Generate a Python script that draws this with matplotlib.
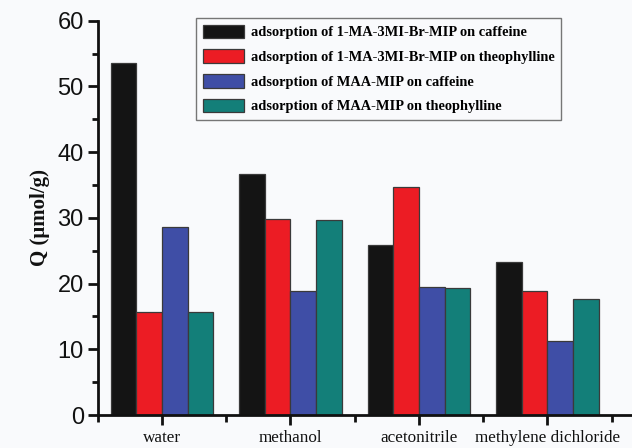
import matplotlib
matplotlib.use("Agg")
import matplotlib.pyplot as plt
from matplotlib.ticker import MultipleLocator, FixedLocator
import numpy as np

# ── Data ─────────────────────────────────────────────────────────────────────
solvents = ["water", "methanol", "acetonitrile", "methylene dichloride"]
series_names = [
    "adsorption of 1-MA-3MI-Br-MIP on caffeine",
    "adsorption of 1-MA-3MI-Br-MIP on theophylline",
    "adsorption of MAA-MIP on caffeine",
    "adsorption of MAA-MIP on theophylline",
]
ionic_caffeine = [53.6, 36.7, 25.8, 23.3]
ionic_theophylline = [15.7, 29.9, 34.7, 18.9]
maa_caffeine = [28.6, 18.9, 19.5, 11.2]
maa_theophylline = [15.7, 29.7, 19.3, 17.6]
colours = ["#141414", "#ec1c24", "#3f4ea6", "#137f79"]

# ── Figure ───────────────────────────────────────────────────────────────────
W, H = 632, 448
fig = plt.figure(figsize=(W / 100, H / 100), dpi=100)
bg = "#f9fafc"
fig.patch.set_facecolor(bg)

x0_px, y0_px, ytop_px = 97.7, 415.0, 20.7
unit_px = 128.5
xmin, xmax = 0.5, 4.75
ax = fig.add_axes([x0_px / W, 1 - y0_px / H,
                   (xmax - xmin) * unit_px / W, (y0_px - ytop_px) / H])
ax.set_facecolor(bg)

x = np.arange(1, len(solvents) + 1)
width = 0.2
all_series = [ionic_caffeine, ionic_theophylline, maa_caffeine, maa_theophylline]
for i, (vals, name, c) in enumerate(zip(all_series, series_names, colours)):
    ax.bar(x + (i - 1.5) * width, vals, width, color=c, edgecolor="#3a3a3a",
           linewidth=0.9, label=name, zorder=2)

ax.set_xlim(xmin, xmax)
ax.set_ylim(0, 60)

for s in ("top", "right"):
    ax.spines[s].set_visible(False)
for s in ("left", "bottom"):
    ax.spines[s].set_linewidth(2.0)
    ax.spines[s].set_color("#111111")

# y ticks
ax.yaxis.set_major_locator(MultipleLocator(10))
ax.yaxis.set_minor_locator(MultipleLocator(5))
ax.tick_params(axis="y", which="major", length=7, width=2, direction="out",
               labelsize=17, pad=3, colors="#111111")
ax.tick_params(axis="y", which="minor", length=4.5, width=2, direction="out",
               colors="#111111")
for lab in ax.get_yticklabels():
    lab.set_family("Liberation Sans")

# x ticks
ax.set_xticks(x)
ax.set_xticklabels(solvents, family="Liberation Serif", fontsize=12.3)
ax.xaxis.set_minor_locator(FixedLocator(np.arange(0.5, 5.0, 1.0)))
ax.tick_params(axis="x", which="major", length=7.5, width=2, direction="out",
               pad=3.5, colors="#111111")
ax.tick_params(axis="x", which="minor", length=5, width=2, direction="out",
               colors="#111111")

ax.set_ylabel("Q (\u03bcmol/g)", family="Liberation Serif", fontweight="bold",
              fontsize=15, labelpad=5, color="#111111")

# ── Legend ───────────────────────────────────────────────────────────────────
leg = ax.legend(loc="upper left", bbox_to_anchor=(196 / W, 1 - 18 / H),
                bbox_transform=fig.transFigure, borderaxespad=0,
                prop={"family": "Liberation Serif", "weight": "bold", "size": 10.4},
                frameon=True, fancybox=False, handlelength=2.9,
                handleheight=1.1, handletextpad=0.45, labelspacing=0.68,
                borderpad=0.45)
leg.get_frame().set_edgecolor("#555555")
leg.get_frame().set_linewidth(1.0)
leg.get_frame().set_facecolor(bg)

fig.savefig("out.png", dpi=100, facecolor=fig.get_facecolor())
